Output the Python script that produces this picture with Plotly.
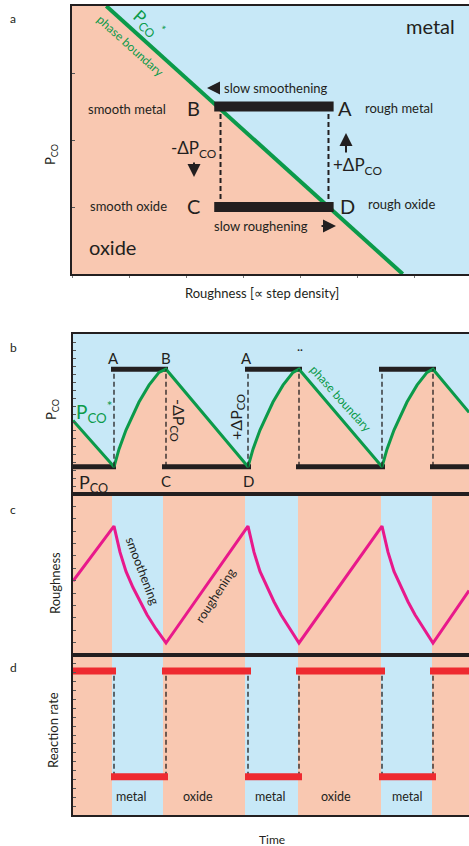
import plotly.graph_objects as go

W, H = 469, 846

# ---------------- data ----------------
# Panel a: phase diagram (roughness vs P_CO)
a_roughness_range = [0, 6.95]
a_pco_range = [0, 4]
boundary_roughness = [0.60, 5.79]
boundary_pco = [4.0, 0.0]
bar_roughness = [2.49, 4.58]
step_roughness = [2.60, 4.49]
cycle_pco = [1.0, 2.5]          # low (C-D), high (B-A)

# Panels b-d: time axis
time_range = [0, 39.6]
t_min_pstar = [4.1, 17.5, 30.9]     # switch oxide -> metal
t_max_pstar = [9.3, 22.6, 36.0]     # switch metal -> oxide
stripe_metal_start = [3.9, 17.2, 30.8]
stripe_metal_end = [9.0, 22.5, 35.9]
metal_bar_start = [3.8, 17.2, 30.6]
metal_bar_end = [9.5, 22.9, 36.3]
oxide_bar_start = [0.0, 8.9, 22.3, 35.7]
oxide_bar_end = [4.3, 17.8, 31.2, 39.6]

# Panel b: P_CO and P_CO*
pco_range = [0, 10]
pco_levels = [1.7, 7.8]
pco_star_t = [0.0, 4.1, 4.6, 5.3, 6.6, 7.6, 8.6, 9.3,
              17.5, 18.0, 18.7, 20.0, 21.0, 22.0, 22.6,
              30.9, 31.4, 32.1, 33.4, 34.4, 35.4, 36.0, 39.6]
pco_star = [4.6, 1.7, 2.8, 4.0, 5.75, 6.8, 7.6, 7.8,
            1.7, 2.8, 4.0, 5.75, 6.8, 7.6, 7.8,
            1.7, 2.8, 4.0, 5.75, 6.8, 7.6, 7.8, 5.1]

# Panel c: roughness
rough_range = [0, 13]
roughness_t = [0.0, 4.1, 4.7, 5.3, 6.0, 6.7, 7.4, 8.3, 9.3,
               17.5, 18.1, 18.7, 19.4, 20.1, 20.8, 21.7, 22.6,
               30.9, 31.5, 32.1, 32.8, 33.5, 34.2, 35.1, 36.0, 39.6]
roughness = [5.97, 10.4, 8.3, 6.75, 5.45, 4.3, 3.25, 2.1, 0.97,
             10.4, 8.3, 6.75, 5.45, 4.3, 3.25, 2.1, 0.97,
             10.4, 8.3, 6.75, 5.45, 4.3, 3.25, 2.1, 0.97, 5.2]

# Panel d: reaction rate
rate_range = [0, 18]
rate_levels = [4.3, 16.2]      # metal (low), oxide (high)

# ---------------- style ----------------
SALMON = "#F9C8B1"
BLUE = "#C7E8F7"
GREEN = "#0B9A4A"
MAGENTA = "#E8198B"
RED = "#EE2A30"
INK = "#231F20"
FONT = "Lato"


def px(x):
    return x / W


def py(y):
    return 1 - y / H


def segs(starts, ends, level):
    xs, ys = [], []
    for s, e in zip(starts, ends):
        xs += [s, e, None]
        ys += [level, level, None]
    return xs, ys


def vlines(ts, y0, y1):
    xs, ys = [], []
    for t in ts:
        xs += [t, t, None]
        ys += [y0, y1, None]
    return xs, ys


fig = go.Figure()
DASH = "5px,3px"

# ---- panel a ----
fig.add_trace(go.Scatter(
    x=[a_roughness_range[0], a_roughness_range[0], boundary_roughness[0], boundary_roughness[1]],
    y=[a_pco_range[0], a_pco_range[1], boundary_pco[0], boundary_pco[1]],
    fill="toself", fillcolor=SALMON, mode="lines", line=dict(width=0),
    xaxis="x", yaxis="y", hoverinfo="skip"))
fig.add_trace(go.Scatter(x=boundary_roughness, y=boundary_pco, mode="lines",
                         line=dict(color=GREEN, width=4), xaxis="x", yaxis="y"))
xs, ys = vlines(step_roughness, cycle_pco[0], cycle_pco[1])
fig.add_trace(go.Scatter(x=xs, y=ys, mode="lines",
                         line=dict(color=INK, width=2, dash=DASH), xaxis="x", yaxis="y"))
xs, ys = [], []
for lvl in cycle_pco:
    xs += [bar_roughness[0], bar_roughness[1], None]
    ys += [lvl, lvl, None]
fig.add_trace(go.Scatter(x=xs, y=ys, mode="lines",
                         line=dict(color=INK, width=10), xaxis="x", yaxis="y"))

# ---- panel b ----
fig.add_trace(go.Scatter(x=pco_star_t, y=pco_star, mode="lines", fill="tozeroy",
                         fillcolor=SALMON, line=dict(width=0), xaxis="x2", yaxis="y2"))
xs1, ys1 = segs(metal_bar_start, metal_bar_end, pco_levels[1])
xs2, ys2 = segs(oxide_bar_start, oxide_bar_end, pco_levels[0])
fig.add_trace(go.Scatter(x=xs1 + xs2, y=ys1 + ys2, mode="lines",
                         line=dict(color=INK, width=5), xaxis="x2", yaxis="y2"))
fig.add_trace(go.Scatter(x=pco_star_t, y=pco_star, mode="lines",
                         line=dict(color=GREEN, width=3), xaxis="x2", yaxis="y2"))
xs, ys = vlines(t_min_pstar + t_max_pstar, pco_levels[0], pco_levels[1])
fig.add_trace(go.Scatter(x=xs, y=ys, mode="lines",
                         line=dict(color=INK, width=1.3, dash=DASH), xaxis="x2", yaxis="y2"))

# ---- panel c ----
fig.add_trace(go.Scatter(x=roughness_t, y=roughness, mode="lines",
                         line=dict(color=MAGENTA, width=3), xaxis="x3", yaxis="y3"))

# ---- panel d ----
xs, ys = vlines(t_min_pstar + t_max_pstar, rate_levels[0], rate_levels[1])
fig.add_trace(go.Scatter(x=xs, y=ys, mode="lines",
                         line=dict(color=INK, width=1.3, dash=DASH), xaxis="x4", yaxis="y4"))
xs1, ys1 = segs(metal_bar_start, metal_bar_end, rate_levels[0])
xs2, ys2 = segs(oxide_bar_start, oxide_bar_end, rate_levels[1])
fig.add_trace(go.Scatter(x=xs1 + xs2, y=ys1 + ys2, mode="lines",
                         line=dict(color=RED, width=7), xaxis="x4", yaxis="y4"))

# stripes (oxide) in panels c and d
ox_start = [time_range[0]] + stripe_metal_end
ox_end = stripe_metal_start + [time_range[1]]
shapes = []
for xr, yr in (("x3", "y3 domain"), ("x4", "y4 domain")):
    for s, e in zip(ox_start, ox_end):
        shapes.append(dict(type="rect", xref=xr, yref=yr, x0=s, x1=e, y0=0, y1=1,
                           fillcolor=SALMON, line=dict(width=0), layer="below"))

# ---------------- axes ----------------
common_x = dict(showline=True, linecolor=INK, linewidth=2, mirror=True,
                showgrid=False, zeroline=False, showticklabels=False)
common_y = dict(showline=True, linecolor=INK, linewidth=2, mirror=False,
                showgrid=False, zeroline=False, showticklabels=False,
                ticks="inside", ticklen=3, tickwidth=1, tickcolor="#555")

dom_x_a = [72 / W, 1]
dom_x_t = [73 / W, 1]

layout = dict(
    width=W, height=H, autosize=False,
    margin=dict(l=0, r=0, t=0, b=0),
    paper_bgcolor="white", plot_bgcolor=BLUE,
    showlegend=False,
    font=dict(family=FONT, color=INK),
    xaxis=dict(common_x, domain=dom_x_a, range=a_roughness_range, anchor="y",
               ticks="outside", ticklen=2, tickwidth=1, tickcolor="#777", dtick=1),
    yaxis=dict(common_y, domain=[py(274), py(6)], range=a_pco_range, anchor="x", dtick=1),
    xaxis2=dict(common_x, domain=dom_x_t, range=time_range, anchor="y2"),
    yaxis2=dict(common_y, domain=[py(494), py(334)], range=pco_range, anchor="x2", dtick=0.5),
    xaxis3=dict(common_x, domain=dom_x_t, range=time_range, anchor="y3"),
    yaxis3=dict(common_y, domain=[py(655), py(494)], range=rough_range, anchor="x3", dtick=1),
    xaxis4=dict(common_x, domain=dom_x_t, range=time_range, anchor="y4"),
    yaxis4=dict(common_y, domain=[py(815), py(655)], range=rate_range, anchor="x4", dtick=1),
    shapes=shapes,
)
fig.update_layout(**layout)

ann = []


def T(text, x, y, size=12, color=INK, angle=0):
    ann.append(dict(text=text, x=px(x), y=py(y), xref="paper", yref="paper",
                    showarrow=False, xanchor="center", yanchor="middle",
                    textangle=angle, font=dict(size=size, color=color, family=FONT)))


def ARR(x_head, y_head, x_tail, y_tail):
    ann.append(dict(text="", x=px(x_head), y=py(y_head), xref="paper", yref="paper",
                    showarrow=True, ax=x_tail - x_head, ay=y_tail - y_head,
                    axref="pixel", ayref="pixel",
                    arrowhead=2, arrowsize=1.3, arrowwidth=2, arrowcolor=INK))


# panel a
T("a", 13, 18, 12)
T("metal", 430, 26, 20)
T("oxide", 112, 247, 20)
T("smooth metal", 127, 109, 13)
T("B", 193, 108, 20)
T("A", 345, 108, 20)
T("rough metal", 399, 108, 13)
T("smooth oxide", 128, 206, 13)
T("C", 193, 206, 20)
T("D", 347, 206, 20)
T("rough oxide", 401, 204, 13)
T("slow smoothening", 276, 88, 13)
ARR(207, 88, 221, 88)
T("slow roughening", 261, 226, 13)
ARR(336, 226, 320, 226)
T("-ΔP<sub>CO</sub>", 193, 149, 17)
ARR(194, 177, 194, 161)
T("+ΔP<sub>CO</sub>", 357, 166, 17)
ARR(346, 133, 346, 154)
T("P<sub>CO</sub><sup>*</sup>", 148, 24, 17, GREEN, 42)
T("phase boundary", 130, 46, 12, GREEN, 42)
T("P<sub>CO</sub>", 51, 155, 13, INK, -90)
T("Roughness [∝ step density]", 262, 293, 13)

# panel b
T("b", 13, 348, 12)
T("A", 113, 358, 15)
T("B", 166, 358, 15)
T("A", 246, 358, 15)
T("¨", 300, 354, 15)
T("C", 166, 481, 15)
T("D", 248, 481, 15)
T("P<sub>CO</sub><sup>*</sup>", 94, 412, 19, GREEN)
T("P<sub>CO</sub>", 93, 483, 18)
T("-ΔP<sub>CO</sub>", 179, 420, 16, INK, 90)
T("+ΔP<sub>CO</sub>", 236, 417, 16, INK, -90)
T("phase boundary", 341, 398, 12, GREEN, 48)
T("P<sub>CO</sub>", 52, 410, 13, INK, -90)

# panel c
T("c", 13, 509, 12)
T("smoothening", 143, 571, 12.5, INK, 69)
T("roughening", 215, 595, 12.5, INK, -57)
T("Roughness", 55, 583, 13, INK, -90)

# panel d
T("d", 13, 667, 12)
T("metal", 131, 796, 12.5)
T("oxide", 198, 796, 12.5)
T("metal", 270, 796, 12.5)
T("oxide", 336, 796, 12.5)
T("metal", 407, 796, 12.5)
T("Reaction rate", 53, 730, 13, INK, -90)
T("Time", 272, 839, 12)

fig.update_layout(annotations=ann)
fig.write_html(
    "out.html",
    config={"displayModeBar": False},
    post_script="document.body.style.margin='0';document.body.style.overflow='hidden';",
)
